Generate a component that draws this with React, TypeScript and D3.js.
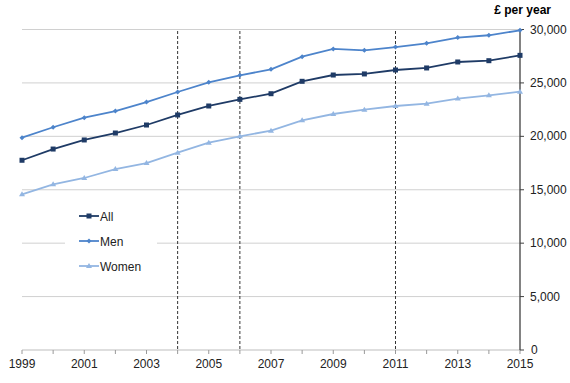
import React from "react";
import * as d3 from "d3";

const years = [1999, 2000, 2001, 2002, 2003, 2004, 2005, 2006, 2007, 2008, 2009, 2010, 2011, 2012, 2013, 2014, 2015];
const allValues = [17760, 18810, 19660, 20310, 21060, 22000, 22840, 23460, 23990, 25150, 25740, 25840, 26210, 26400, 26960, 27080, 27580];
const menValues = [19870, 20850, 21750, 22370, 23210, 24150, 25060, 25710, 26270, 27460, 28180, 28050, 28360, 28710, 29240, 29460, 29920];
const womenValues = [14570, 15510, 16100, 16940, 17500, 18470, 19410, 20000, 20530, 21500, 22090, 22500, 22840, 23060, 23530, 23840, 24180];
const breakYears = [2004, 2006, 2011];
const xTickLabels = [1999, 2001, 2003, 2005, 2007, 2009, 2011, 2013, 2015];
const yTicks = [0, 5000, 10000, 15000, 20000, 25000, 30000];
const seriesNames = ["All", "Men", "Women"];

const colors: Record<string, string> = { All: "#1F3B66", Men: "#4D84CB", Women: "#93B6E2" };
const font = "Liberation Sans, Arial, sans-serif";

export default function App() {
  const width = 570, height = 383;
  const x = d3.scaleLinear().domain([1999, 2015]).range([22, 520]);
  const y = d3.scaleLinear().domain([0, 30000]).range([350, 29.5]);
  const line = d3.line<number>().x((_, i) => x(years[i])).y((d) => y(d));
  const data: Record<string, number[]> = { All: allValues, Men: menValues, Women: womenValues };
  const fmt = d3.format(",");

  const marker = (name: string, cx: number, cy: number, key: string | number) => {
    const c = colors[name];
    if (name === "All") return <rect key={key} x={cx - 2.5} y={cy - 2.5} width={5} height={5} fill={c} />;
    if (name === "Men") return <path key={key} d={`M${cx},${cy - 2.5}L${cx + 2.5},${cy}L${cx},${cy + 2.5}L${cx - 2.5},${cy}Z`} fill={c} />;
    return <path key={key} d={`M${cx},${cy - 3}L${cx + 3},${cy + 2}L${cx - 3},${cy + 2}Z`} fill={c} />;
  };

  return (
    <svg width={width} height={height} style={{ position: "absolute", left: 0, top: 0, background: "#fff" }}>
      {yTicks.filter((t) => t > 0).map((t) => (
        <line key={t} x1={22} x2={520} y1={y(t)} y2={y(t)} stroke="#D0D0D0" strokeWidth={1} />
      ))}
      {/* x axis */}
      <line x1={22} x2={520} y1={y(0)} y2={y(0)} stroke="#BDBDBD" strokeWidth={1} />
      {years.map((yr) => (
        <line key={yr} x1={x(yr)} x2={x(yr)} y1={y(0)} y2={y(0) + 4} stroke="#999" strokeWidth={1} />
      ))}
      {xTickLabels.map((yr) => (
        <text key={yr} x={x(yr)} y={368} textAnchor="middle" fontFamily={font} fontSize={12} fill="#222">{yr}</text>
      ))}
      {/* break lines */}
      {breakYears.map((yr) => (
        <line key={yr} x1={x(yr)} x2={x(yr)} y1={31} y2={y(0)} stroke="#333" strokeWidth={1} strokeDasharray="3,2" />
      ))}
      {/* y axis */}
      <line x1={520} x2={520} y1={y(30000)} y2={y(0)} stroke="#404040" strokeWidth={1.3} />
      {yTicks.map((t) => (
        <g key={t}>
          <line x1={520} x2={524} y1={y(t)} y2={y(t)} stroke="#404040" strokeWidth={1} />
          <text x={t === 0 ? 531 : 530} y={y(t) + 4} fontFamily={font} fontSize={12} fill="#222">{fmt(t)}</text>
        </g>
      ))}
      <text x={551} y={14} textAnchor="end" fontFamily={font} fontSize={12} fontWeight="bold" fill="#000">£ per year</text>
      {/* series */}
      {seriesNames.map((name) => (
        <g key={name}>
          <path d={line(data[name]) || ""} fill="none" stroke={colors[name]} strokeWidth={1.8} />
          {data[name].map((v, i) => marker(name, x(years[i]), y(v), i))}
        </g>
      ))}
      {/* legend */}
      <rect x={65} y={200} width={92} height={80} fill="#fff" />
      {seriesNames.map((name, i) => {
        const ly = 216 + i * 25;
        return (
          <g key={name}>
            <line x1={79} x2={99} y1={ly} y2={ly} stroke={colors[name]} strokeWidth={1.8} />
            {marker(name, 89, ly, "m" + name)}
            <text x={100} y={ly + 4.5} fontFamily={font} fontSize={12} fill="#222">{name}</text>
          </g>
        );
      })}
    </svg>
  );
}
